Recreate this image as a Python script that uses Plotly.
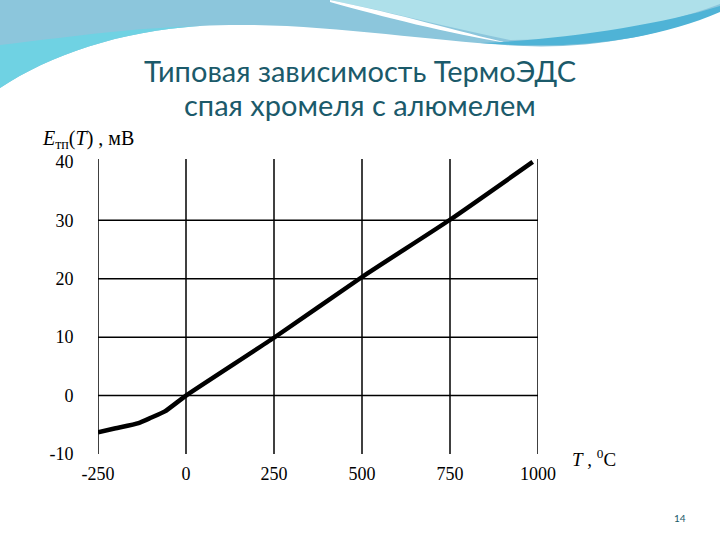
import plotly.graph_objects as go

# ---- data ----
temperature_c = [-250, -200, -135, -100, -60, 0, 250, 500, 750, 985]
emf_mv = [-6.3, -5.6, -4.7, -3.8, -2.7, 0.0, 9.9, 20.3, 30.1, 40.0]
x_ticks = [-250, 0, 250, 500, 750, 1000]
y_ticks = [-10, 0, 10, 20, 30, 40]
y_grid = [0, 10, 20, 30]

title_1 = "Типовая зависимость ТермоЭДС"
title_2 = "спая хромеля с алюмелем"

# ---- layout geometry (pixels) ----
W, H = 720, 540
L, R, T, B = 98, 182, 159, 86
PW, PH = W - L - R, H - T - B


def px(x):
    return (x - L) / PW


def py(y):
    return 1 - (y - T) / PH


def path(points, close=True):
    s = ""
    for p in points:
        cmd = p[0]
        coords = p[1:]
        conv = []
        for j in range(0, len(coords), 2):
            conv.append(f"{px(coords[j]):.4f},{py(coords[j+1]):.4f}")
        s += cmd + " " + " ".join(conv) + " "
    if close:
        s += "Z"
    return s


fig = go.Figure()

fig.add_trace(go.Scatter(
    x=temperature_c, y=emf_mv, mode="lines",
    line=dict(color="black", width=4.5, shape="spline", smoothing=0.5),
    hoverinfo="skip", showlegend=False,
))

shapes = []
# decorative swoosh
shapes.append(dict(type="path", xref="paper", yref="paper", layer="below",
                   line=dict(width=0), fillcolor="#8cc6dc",
                   path=path([("M", 0, 0), ("L", 720, 0), ("L", 720, 10),
                              ("C", 650, 42, 570, 50, 505, 45),
                              ("C", 420, 40, 300, 20, 200, 26),
                              ("C", 120, 31, 50, 55, 0, 88)])))
shapes.append(dict(type="path", xref="paper", yref="paper", layer="below",
                   line=dict(width=0), fillcolor="#6fd2e3",
                   path=path([("M", 0, 45), ("C", 60, 38, 130, 28, 200, 26),
                              ("C", 120, 31, 50, 55, 0, 88)])))
shapes.append(dict(type="path", xref="paper", yref="paper", layer="below",
                   line=dict(width=0), fillcolor="#aee0ea",
                   path=path([("M", 330, 0), ("L", 720, 0), ("L", 720, 4),
                              ("C", 650, 30, 580, 40, 510, 40),
                              ("C", 450, 28, 390, 12, 330, 0)])))
shapes.append(dict(type="path", xref="paper", yref="paper", layer="below",
                   line=dict(width=0), fillcolor="#ffffff",
                   path=path([("M", 330, 0), ("C", 400, 14, 460, 32, 508, 43),
                              ("C", 450, 34, 380, 16, 330, 2)])))
shapes.append(dict(type="path", xref="paper", yref="paper", layer="below",
                   line=dict(width=0), fillcolor="#4fb3d6",
                   path=path([("M", 480, 43), ("C", 560, 40, 660, 25, 720, 6),
                              ("L", 720, 12), ("C", 650, 42, 570, 50, 480, 43)])))

# grid lines built from tick arrays
for xv in x_ticks:
    shapes.append(dict(type="line", xref="x", yref="y", layer="below",
                       x0=xv, x1=xv, y0=-10.2, y1=40.5,
                       line=dict(color="black", width=1.5)))
for yv in y_grid:
    shapes.append(dict(type="line", xref="x", yref="y", layer="below",
                       x0=x_ticks[0], x1=x_ticks[-1], y0=yv, y1=yv,
                       line=dict(color="black", width=1.5)))

serif = "Liberation Serif, Times New Roman, serif"
annotations = [
    dict(text=title_1, xref="paper", yref="paper", x=px(360), y=py(70),
         showarrow=False, xanchor="center", yanchor="middle",
         font=dict(family="Lato", size=29, color="#1b5a6a")),
    dict(text=title_2, xref="paper", yref="paper", x=px(360), y=py(104),
         showarrow=False, xanchor="center", yanchor="middle",
         font=dict(family="Lato", size=29, color="#1b5a6a")),
    dict(text="<i>E</i><sub>тп</sub>(<i>T</i>) , мВ", xref="paper", yref="paper",
         x=px(40), y=py(139), showarrow=False, xanchor="left", yanchor="middle",
         font=dict(family=serif, size=20, color="black")),
    dict(text="<i>T</i> , <sup>0</sup>C", xref="paper", yref="paper",
         x=px(570), y=py(458), showarrow=False, xanchor="left", yanchor="middle",
         font=dict(family=serif, size=19, color="black")),
    dict(text="14", xref="paper", yref="paper", x=px(680), y=py(518),
         showarrow=False, xanchor="center", yanchor="middle",
         font=dict(family="Lato", size=10, color="#1b5a6a")),
]

fig.update_layout(
    width=W, height=H,
    margin=dict(l=L, r=R, t=T, b=B, pad=0, autoexpand=False),
    paper_bgcolor="white", plot_bgcolor="white",
    shapes=shapes, annotations=annotations,
    showlegend=False,
    xaxis=dict(range=[-250, 1000], tickvals=x_ticks, ticktext=[str(v) for v in x_ticks],
               showgrid=False, zeroline=False, automargin=False,
               showline=False, ticks="outside", ticklen=3, tickcolor="rgba(0,0,0,0)",
               tickfont=dict(family=serif, size=18, color="black")),
    yaxis=dict(range=[-10, 40.5], tickvals=y_ticks, ticktext=[str(v) for v in y_ticks],
               showgrid=False, zeroline=False, automargin=False,
               showline=False, ticks="outside", ticklen=20, tickcolor="rgba(0,0,0,0)",
               tickfont=dict(family=serif, size=18, color="black")),
)

fig.write_html("out.html", config={"displayModeBar": False},
               post_script="document.body.style.margin='0';")
